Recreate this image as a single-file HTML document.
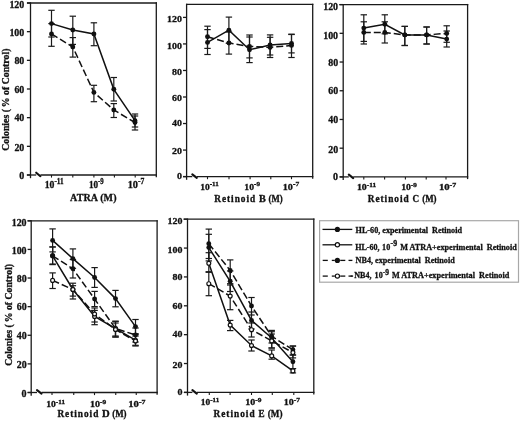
<!DOCTYPE html>
<html><head><meta charset="utf-8"><style>
html,body{margin:0;padding:0;background:#fff;}
svg{display:block;filter:grayscale(1);}
text{font-family:"Liberation Serif", serif;font-weight:bold;fill:#111;stroke:#111;stroke-width:0.3px;}
</style></head><body>
<svg width="520" height="421" viewBox="0 0 520 421">
<rect width="520" height="421" fill="#fff"/>
<line x1="27" y1="3" x2="156.95" y2="3" stroke="#1a1a1a" stroke-width="1.3" />
<line x1="156.3" y1="2.35" x2="156.3" y2="177.2" stroke="#1a1a1a" stroke-width="1.3" />
<line x1="30.5" y1="2.35" x2="30.5" y2="178.2" stroke="#1a1a1a" stroke-width="1.3" />
<line x1="26.9" y1="175" x2="36.2" y2="175" stroke="#1a1a1a" stroke-width="1.3" />
<line x1="40.4" y1="175" x2="156.95" y2="175" stroke="#1a1a1a" stroke-width="1.3" />
<path d="M36.2,172.7 L40.4,176.2" stroke="#111" stroke-width="2.1" stroke-linecap="round"/>
<line x1="26.9" y1="175" x2="30.5" y2="175" stroke="#1a1a1a" stroke-width="1.3" />
<text x="24.3" y="178.93" font-size="9.8" text-anchor="end" textLength="5" lengthAdjust="spacingAndGlyphs" >0</text>
<line x1="26.9" y1="146.33" x2="30.5" y2="146.33" stroke="#1a1a1a" stroke-width="1.3" />
<text x="24.3" y="151.33" font-size="9.8" text-anchor="end" textLength="9.9" lengthAdjust="spacingAndGlyphs" >20</text>
<line x1="26.9" y1="117.67" x2="30.5" y2="117.67" stroke="#1a1a1a" stroke-width="1.3" />
<text x="24.3" y="121.33" font-size="9.8" text-anchor="end" textLength="9.9" lengthAdjust="spacingAndGlyphs" >40</text>
<line x1="26.9" y1="89" x2="30.5" y2="89" stroke="#1a1a1a" stroke-width="1.3" />
<text x="24.3" y="92.83" font-size="9.8" text-anchor="end" textLength="9.9" lengthAdjust="spacingAndGlyphs" >60</text>
<line x1="26.9" y1="60.33" x2="30.5" y2="60.33" stroke="#1a1a1a" stroke-width="1.3" />
<text x="24.3" y="64.33" font-size="9.8" text-anchor="end" textLength="9.9" lengthAdjust="spacingAndGlyphs" >80</text>
<line x1="26.9" y1="31.67" x2="30.5" y2="31.67" stroke="#1a1a1a" stroke-width="1.3" />
<text x="24.3" y="36.33" font-size="9.8" text-anchor="end" textLength="14.9" lengthAdjust="spacingAndGlyphs" >100</text>
<line x1="26.9" y1="3" x2="30.5" y2="3" stroke="#1a1a1a" stroke-width="1.3" />
<text x="24.3" y="7.73" font-size="9.8" text-anchor="end" textLength="14.9" lengthAdjust="spacingAndGlyphs" >120</text>
<line x1="51.5" y1="175" x2="51.5" y2="177.6" stroke="#1a1a1a" stroke-width="1.1" />
<line x1="72.8" y1="175" x2="72.8" y2="177.6" stroke="#1a1a1a" stroke-width="1.1" />
<line x1="93.9" y1="175" x2="93.9" y2="177.6" stroke="#1a1a1a" stroke-width="1.1" />
<line x1="114.4" y1="175" x2="114.4" y2="177.6" stroke="#1a1a1a" stroke-width="1.1" />
<line x1="135.2" y1="175" x2="135.2" y2="177.6" stroke="#1a1a1a" stroke-width="1.1" />
<text x="44.7" y="187.7" font-size="10" textLength="18.9" lengthAdjust="spacingAndGlyphs">10<tspan font-size="7.4" dy="-3.6">-11</tspan></text>
<text x="88.9" y="187.7" font-size="10" textLength="14.8" lengthAdjust="spacingAndGlyphs">10<tspan font-size="7.4" dy="-3.6">-9</tspan></text>
<text x="127.7" y="187.7" font-size="10" textLength="16.7" lengthAdjust="spacingAndGlyphs">10<tspan font-size="7.4" dy="-3.6">-7</tspan></text>
<text x="70.1" y="200.9" font-size="10" text-anchor="start" textLength="46.4" lengthAdjust="spacing" >ATRA (M)</text>
<text transform="translate(9.4,150.7) rotate(-90)" font-size="10" textLength="102.1" lengthAdjust="spacingAndGlyphs">Colonies (&#8201;% of Control)</text>
<polyline points="51.5,23.6 72.8,30 93.9,34 113.8,89.3 135,120.7" fill="none" stroke="#111" stroke-width="1.5" />
<polyline points="51.5,33.9 72.8,47 93.9,92.4 113.8,110 135,122.5" fill="none" stroke="#111" stroke-width="1.5" stroke-dasharray="7,3"/>
<line x1="51.5" y1="10.3" x2="51.5" y2="37" stroke="#1a1a1a" stroke-width="1.2" />
<line x1="48.3" y1="10.3" x2="54.7" y2="10.3" stroke="#1a1a1a" stroke-width="1.2" />
<line x1="48.3" y1="37" x2="54.7" y2="37" stroke="#1a1a1a" stroke-width="1.2" />
<line x1="72.8" y1="16.2" x2="72.8" y2="44.4" stroke="#1a1a1a" stroke-width="1.2" />
<line x1="69.6" y1="16.2" x2="76" y2="16.2" stroke="#1a1a1a" stroke-width="1.2" />
<line x1="69.6" y1="44.4" x2="76" y2="44.4" stroke="#1a1a1a" stroke-width="1.2" />
<line x1="93.9" y1="22.8" x2="93.9" y2="45.7" stroke="#1a1a1a" stroke-width="1.2" />
<line x1="90.7" y1="22.8" x2="97.1" y2="22.8" stroke="#1a1a1a" stroke-width="1.2" />
<line x1="90.7" y1="45.7" x2="97.1" y2="45.7" stroke="#1a1a1a" stroke-width="1.2" />
<line x1="113.8" y1="77.5" x2="113.8" y2="101" stroke="#1a1a1a" stroke-width="1.2" />
<line x1="110.6" y1="77.5" x2="117" y2="77.5" stroke="#1a1a1a" stroke-width="1.2" />
<line x1="110.6" y1="101" x2="117" y2="101" stroke="#1a1a1a" stroke-width="1.2" />
<line x1="135" y1="114" x2="135" y2="127" stroke="#1a1a1a" stroke-width="1.2" />
<line x1="131.8" y1="114" x2="138.2" y2="114" stroke="#1a1a1a" stroke-width="1.2" />
<line x1="131.8" y1="127" x2="138.2" y2="127" stroke="#1a1a1a" stroke-width="1.2" />
<line x1="51.5" y1="23.6" x2="51.5" y2="46.3" stroke="#1a1a1a" stroke-width="1.2" />
<line x1="48.3" y1="23.6" x2="54.7" y2="23.6" stroke="#1a1a1a" stroke-width="1.2" />
<line x1="48.3" y1="46.3" x2="54.7" y2="46.3" stroke="#1a1a1a" stroke-width="1.2" />
<line x1="72.8" y1="37.6" x2="72.8" y2="57.1" stroke="#1a1a1a" stroke-width="1.2" />
<line x1="69.6" y1="37.6" x2="76" y2="37.6" stroke="#1a1a1a" stroke-width="1.2" />
<line x1="69.6" y1="57.1" x2="76" y2="57.1" stroke="#1a1a1a" stroke-width="1.2" />
<line x1="93.9" y1="85.3" x2="93.9" y2="101.7" stroke="#1a1a1a" stroke-width="1.2" />
<line x1="90.7" y1="85.3" x2="97.1" y2="85.3" stroke="#1a1a1a" stroke-width="1.2" />
<line x1="90.7" y1="101.7" x2="97.1" y2="101.7" stroke="#1a1a1a" stroke-width="1.2" />
<line x1="113.8" y1="103.6" x2="113.8" y2="117.5" stroke="#1a1a1a" stroke-width="1.2" />
<line x1="110.6" y1="103.6" x2="117" y2="103.6" stroke="#1a1a1a" stroke-width="1.2" />
<line x1="110.6" y1="117.5" x2="117" y2="117.5" stroke="#1a1a1a" stroke-width="1.2" />
<line x1="135" y1="116" x2="135" y2="130" stroke="#1a1a1a" stroke-width="1.2" />
<line x1="131.8" y1="116" x2="138.2" y2="116" stroke="#1a1a1a" stroke-width="1.2" />
<line x1="131.8" y1="130" x2="138.2" y2="130" stroke="#1a1a1a" stroke-width="1.2" />
<circle cx="51.5" cy="23.6" r="2.45" fill="#111"/>
<circle cx="72.8" cy="30" r="2.45" fill="#111"/>
<circle cx="93.9" cy="34" r="2.45" fill="#111"/>
<circle cx="113.8" cy="89.3" r="2.45" fill="#111"/>
<circle cx="135" cy="120.7" r="2.45" fill="#111"/>
<circle cx="51.5" cy="33.9" r="2.45" fill="#111"/>
<circle cx="72.8" cy="47" r="2.45" fill="#111"/>
<circle cx="93.9" cy="92.4" r="2.45" fill="#111"/>
<circle cx="113.8" cy="110" r="2.45" fill="#111"/>
<circle cx="135" cy="122.5" r="2.45" fill="#111"/>
<line x1="186.6" y1="4.3" x2="313.35" y2="4.3" stroke="#1a1a1a" stroke-width="1.3" />
<line x1="312.7" y1="3.65" x2="312.7" y2="178.8" stroke="#1a1a1a" stroke-width="1.3" />
<line x1="186.6" y1="3.65" x2="186.6" y2="179.8" stroke="#1a1a1a" stroke-width="1.3" />
<line x1="183" y1="176.6" x2="192.3" y2="176.6" stroke="#1a1a1a" stroke-width="1.3" />
<line x1="196.8" y1="176.6" x2="313.35" y2="176.6" stroke="#1a1a1a" stroke-width="1.3" />
<path d="M192.3,174.3 L196.8,177.8" stroke="#111" stroke-width="2.1" stroke-linecap="round"/>
<line x1="183" y1="176.6" x2="186.6" y2="176.6" stroke="#1a1a1a" stroke-width="1.3" />
<text x="181.9" y="179.43" font-size="9.2" text-anchor="end" textLength="5" lengthAdjust="spacingAndGlyphs" >0</text>
<line x1="183" y1="150.07" x2="186.6" y2="150.07" stroke="#1a1a1a" stroke-width="1.3" />
<text x="181.9" y="153.73" font-size="9.2" text-anchor="end" textLength="9.9" lengthAdjust="spacingAndGlyphs" >20</text>
<line x1="183" y1="123.53" x2="186.6" y2="123.53" stroke="#1a1a1a" stroke-width="1.3" />
<text x="181.9" y="126.43" font-size="9.2" text-anchor="end" textLength="9.9" lengthAdjust="spacingAndGlyphs" >40</text>
<line x1="183" y1="97" x2="186.6" y2="97" stroke="#1a1a1a" stroke-width="1.3" />
<text x="181.9" y="100.73" font-size="9.2" text-anchor="end" textLength="9.9" lengthAdjust="spacingAndGlyphs" >60</text>
<line x1="183" y1="70.47" x2="186.6" y2="70.47" stroke="#1a1a1a" stroke-width="1.3" />
<text x="181.9" y="74.53" font-size="9.2" text-anchor="end" textLength="9.9" lengthAdjust="spacingAndGlyphs" >80</text>
<line x1="183" y1="43.93" x2="186.6" y2="43.93" stroke="#1a1a1a" stroke-width="1.3" />
<text x="181.9" y="48.93" font-size="9.2" text-anchor="end" textLength="14.9" lengthAdjust="spacingAndGlyphs" >100</text>
<line x1="183" y1="17.4" x2="186.6" y2="17.4" stroke="#1a1a1a" stroke-width="1.3" />
<text x="181.9" y="21.93" font-size="9.2" text-anchor="end" textLength="14.9" lengthAdjust="spacingAndGlyphs" >120</text>
<line x1="207.5" y1="176.6" x2="207.5" y2="179.2" stroke="#1a1a1a" stroke-width="1.1" />
<line x1="229" y1="176.6" x2="229" y2="179.2" stroke="#1a1a1a" stroke-width="1.1" />
<line x1="250.1" y1="176.6" x2="250.1" y2="179.2" stroke="#1a1a1a" stroke-width="1.1" />
<line x1="270.8" y1="176.6" x2="270.8" y2="179.2" stroke="#1a1a1a" stroke-width="1.1" />
<line x1="291.5" y1="176.6" x2="291.5" y2="179.2" stroke="#1a1a1a" stroke-width="1.1" />
<text x="200.2" y="189.5" font-size="9.2" textLength="18.5" lengthAdjust="spacingAndGlyphs">10<tspan font-size="6.81" dy="-3.31">-11</tspan></text>
<text x="244.3" y="189.5" font-size="9.2" textLength="15.7" lengthAdjust="spacingAndGlyphs">10<tspan font-size="6.81" dy="-3.31">-9</tspan></text>
<text x="282.8" y="189.5" font-size="9.2" textLength="16.4" lengthAdjust="spacingAndGlyphs">10<tspan font-size="6.81" dy="-3.31">-7</tspan></text>
<text x="214.3" y="202" font-size="9.3" text-anchor="start" textLength="40.8" lengthAdjust="spacing" >Retinoid</text>
<text x="258.9" y="202" font-size="9.3" text-anchor="start" textLength="6.8" lengthAdjust="spacingAndGlyphs" >B</text>
<text x="268.5" y="202" font-size="9.3" text-anchor="start" textLength="14.1" lengthAdjust="spacingAndGlyphs" >(M)</text>
<polyline points="207.5,42.4 228.9,30.2 249.5,49.8 270.1,45 291.5,43.4" fill="none" stroke="#111" stroke-width="1.5" />
<polyline points="207.5,36.7 228.9,43 249.5,46.4 270.1,47.4 291.5,45.4" fill="none" stroke="#111" stroke-width="1.5" stroke-dasharray="7,3"/>
<line x1="207.5" y1="29.6" x2="207.5" y2="54.5" stroke="#1a1a1a" stroke-width="1.2" />
<line x1="204.3" y1="29.6" x2="210.7" y2="29.6" stroke="#1a1a1a" stroke-width="1.2" />
<line x1="204.3" y1="54.5" x2="210.7" y2="54.5" stroke="#1a1a1a" stroke-width="1.2" />
<line x1="228.9" y1="17.1" x2="228.9" y2="43.3" stroke="#1a1a1a" stroke-width="1.2" />
<line x1="225.7" y1="17.1" x2="232.1" y2="17.1" stroke="#1a1a1a" stroke-width="1.2" />
<line x1="225.7" y1="43.3" x2="232.1" y2="43.3" stroke="#1a1a1a" stroke-width="1.2" />
<line x1="249.5" y1="37" x2="249.5" y2="62.6" stroke="#1a1a1a" stroke-width="1.2" />
<line x1="246.3" y1="37" x2="252.7" y2="37" stroke="#1a1a1a" stroke-width="1.2" />
<line x1="246.3" y1="62.6" x2="252.7" y2="62.6" stroke="#1a1a1a" stroke-width="1.2" />
<line x1="270.1" y1="34.9" x2="270.1" y2="55" stroke="#1a1a1a" stroke-width="1.2" />
<line x1="266.9" y1="34.9" x2="273.3" y2="34.9" stroke="#1a1a1a" stroke-width="1.2" />
<line x1="266.9" y1="55" x2="273.3" y2="55" stroke="#1a1a1a" stroke-width="1.2" />
<line x1="291.5" y1="34.2" x2="291.5" y2="52.9" stroke="#1a1a1a" stroke-width="1.2" />
<line x1="288.3" y1="34.2" x2="294.7" y2="34.2" stroke="#1a1a1a" stroke-width="1.2" />
<line x1="288.3" y1="52.9" x2="294.7" y2="52.9" stroke="#1a1a1a" stroke-width="1.2" />
<line x1="207.5" y1="26.2" x2="207.5" y2="48.4" stroke="#1a1a1a" stroke-width="1.2" />
<line x1="204.3" y1="26.2" x2="210.7" y2="26.2" stroke="#1a1a1a" stroke-width="1.2" />
<line x1="204.3" y1="48.4" x2="210.7" y2="48.4" stroke="#1a1a1a" stroke-width="1.2" />
<line x1="228.9" y1="32" x2="228.9" y2="54.1" stroke="#1a1a1a" stroke-width="1.2" />
<line x1="225.7" y1="32" x2="232.1" y2="32" stroke="#1a1a1a" stroke-width="1.2" />
<line x1="225.7" y1="54.1" x2="232.1" y2="54.1" stroke="#1a1a1a" stroke-width="1.2" />
<line x1="249.5" y1="35" x2="249.5" y2="57.9" stroke="#1a1a1a" stroke-width="1.2" />
<line x1="246.3" y1="35" x2="252.7" y2="35" stroke="#1a1a1a" stroke-width="1.2" />
<line x1="246.3" y1="57.9" x2="252.7" y2="57.9" stroke="#1a1a1a" stroke-width="1.2" />
<line x1="270.1" y1="37.3" x2="270.1" y2="57.5" stroke="#1a1a1a" stroke-width="1.2" />
<line x1="266.9" y1="37.3" x2="273.3" y2="37.3" stroke="#1a1a1a" stroke-width="1.2" />
<line x1="266.9" y1="57.5" x2="273.3" y2="57.5" stroke="#1a1a1a" stroke-width="1.2" />
<line x1="291.5" y1="34.5" x2="291.5" y2="57.5" stroke="#1a1a1a" stroke-width="1.2" />
<line x1="288.3" y1="34.5" x2="294.7" y2="34.5" stroke="#1a1a1a" stroke-width="1.2" />
<line x1="288.3" y1="57.5" x2="294.7" y2="57.5" stroke="#1a1a1a" stroke-width="1.2" />
<circle cx="207.5" cy="42.4" r="2.45" fill="#111"/>
<circle cx="228.9" cy="30.2" r="2.45" fill="#111"/>
<circle cx="249.5" cy="49.8" r="2.45" fill="#111"/>
<circle cx="270.1" cy="45" r="2.45" fill="#111"/>
<circle cx="291.5" cy="43.4" r="2.45" fill="#111"/>
<circle cx="207.5" cy="36.7" r="2.45" fill="#111"/>
<circle cx="228.9" cy="43" r="2.45" fill="#111"/>
<circle cx="249.5" cy="46.4" r="2.45" fill="#111"/>
<circle cx="270.1" cy="47.4" r="2.45" fill="#111"/>
<circle cx="291.5" cy="45.4" r="2.45" fill="#111"/>
<line x1="339.3" y1="4.6" x2="468.25" y2="4.6" stroke="#1a1a1a" stroke-width="1.3" />
<line x1="467.6" y1="3.95" x2="467.6" y2="179.1" stroke="#1a1a1a" stroke-width="1.3" />
<line x1="343.2" y1="3.95" x2="343.2" y2="180.1" stroke="#1a1a1a" stroke-width="1.3" />
<line x1="339.6" y1="176.9" x2="348.8" y2="176.9" stroke="#1a1a1a" stroke-width="1.3" />
<line x1="353.2" y1="176.9" x2="468.25" y2="176.9" stroke="#1a1a1a" stroke-width="1.3" />
<path d="M348.8,174.6 L353.2,178.1" stroke="#111" stroke-width="2.1" stroke-linecap="round"/>
<line x1="339.6" y1="176.9" x2="343.2" y2="176.9" stroke="#1a1a1a" stroke-width="1.3" />
<text x="338.1" y="180.23" font-size="9.8" text-anchor="end" textLength="5" lengthAdjust="spacingAndGlyphs" >0</text>
<line x1="339.6" y1="148.18" x2="343.2" y2="148.18" stroke="#1a1a1a" stroke-width="1.3" />
<text x="338.1" y="152.53" font-size="9.8" text-anchor="end" textLength="9.9" lengthAdjust="spacingAndGlyphs" >20</text>
<line x1="339.6" y1="119.47" x2="343.2" y2="119.47" stroke="#1a1a1a" stroke-width="1.3" />
<text x="338.1" y="123.23" font-size="9.8" text-anchor="end" textLength="9.9" lengthAdjust="spacingAndGlyphs" >40</text>
<line x1="339.6" y1="90.75" x2="343.2" y2="90.75" stroke="#1a1a1a" stroke-width="1.3" />
<text x="338.1" y="94.13" font-size="9.8" text-anchor="end" textLength="9.9" lengthAdjust="spacingAndGlyphs" >60</text>
<line x1="339.6" y1="62.03" x2="343.2" y2="62.03" stroke="#1a1a1a" stroke-width="1.3" />
<text x="338.1" y="66.03" font-size="9.8" text-anchor="end" textLength="9.9" lengthAdjust="spacingAndGlyphs" >80</text>
<line x1="339.6" y1="33.32" x2="343.2" y2="33.32" stroke="#1a1a1a" stroke-width="1.3" />
<text x="338.1" y="39.13" font-size="9.8" text-anchor="end" textLength="14.9" lengthAdjust="spacingAndGlyphs" >100</text>
<line x1="339.6" y1="4.6" x2="343.2" y2="4.6" stroke="#1a1a1a" stroke-width="1.3" />
<text x="338.1" y="9.63" font-size="9.8" text-anchor="end" textLength="14.9" lengthAdjust="spacingAndGlyphs" >120</text>
<line x1="363.8" y1="176.9" x2="363.8" y2="179.5" stroke="#1a1a1a" stroke-width="1.1" />
<line x1="384.6" y1="176.9" x2="384.6" y2="179.5" stroke="#1a1a1a" stroke-width="1.1" />
<line x1="405.4" y1="176.9" x2="405.4" y2="179.5" stroke="#1a1a1a" stroke-width="1.1" />
<line x1="426.2" y1="176.9" x2="426.2" y2="179.5" stroke="#1a1a1a" stroke-width="1.1" />
<line x1="446" y1="176.9" x2="446" y2="179.5" stroke="#1a1a1a" stroke-width="1.1" />
<text x="356.9" y="190" font-size="8.4" textLength="19.2" lengthAdjust="spacingAndGlyphs">10<tspan font-size="6.22" dy="-3.02">-11</tspan></text>
<text x="401.2" y="190" font-size="8.4" textLength="15.7" lengthAdjust="spacingAndGlyphs">10<tspan font-size="6.22" dy="-3.02">-9</tspan></text>
<text x="438.9" y="190" font-size="8.4" textLength="17.3" lengthAdjust="spacingAndGlyphs">10<tspan font-size="6.22" dy="-3.02">-7</tspan></text>
<text x="367.8" y="202.3" font-size="9.3" text-anchor="start" textLength="40.8" lengthAdjust="spacing" >Retinoid</text>
<text x="412.5" y="202.3" font-size="9.3" text-anchor="start" textLength="6.6" lengthAdjust="spacingAndGlyphs" >C</text>
<text x="422.2" y="202.3" font-size="9.3" text-anchor="start" textLength="14.4" lengthAdjust="spacingAndGlyphs" >(M)</text>
<polyline points="363.8,28.1 384.8,24.3 404.8,34.9 426.6,34.9 446.7,39.1" fill="none" stroke="#111" stroke-width="1.5" />
<polyline points="363.8,32.4 384.8,32.4 404.8,34.9 426.6,34.9 446.7,33.4" fill="none" stroke="#111" stroke-width="1.5" stroke-dasharray="7,3"/>
<line x1="363.8" y1="14.8" x2="363.8" y2="41.4" stroke="#1a1a1a" stroke-width="1.2" />
<line x1="360.6" y1="14.8" x2="367" y2="14.8" stroke="#1a1a1a" stroke-width="1.2" />
<line x1="360.6" y1="41.4" x2="367" y2="41.4" stroke="#1a1a1a" stroke-width="1.2" />
<line x1="384.8" y1="14.8" x2="384.8" y2="33.8" stroke="#1a1a1a" stroke-width="1.2" />
<line x1="381.6" y1="14.8" x2="388" y2="14.8" stroke="#1a1a1a" stroke-width="1.2" />
<line x1="381.6" y1="33.8" x2="388" y2="33.8" stroke="#1a1a1a" stroke-width="1.2" />
<line x1="404.8" y1="26.4" x2="404.8" y2="45.5" stroke="#1a1a1a" stroke-width="1.2" />
<line x1="401.6" y1="26.4" x2="408" y2="26.4" stroke="#1a1a1a" stroke-width="1.2" />
<line x1="401.6" y1="45.5" x2="408" y2="45.5" stroke="#1a1a1a" stroke-width="1.2" />
<line x1="426.6" y1="27" x2="426.6" y2="44" stroke="#1a1a1a" stroke-width="1.2" />
<line x1="423.4" y1="27" x2="429.8" y2="27" stroke="#1a1a1a" stroke-width="1.2" />
<line x1="423.4" y1="44" x2="429.8" y2="44" stroke="#1a1a1a" stroke-width="1.2" />
<line x1="446.7" y1="31" x2="446.7" y2="47" stroke="#1a1a1a" stroke-width="1.2" />
<line x1="443.5" y1="31" x2="449.9" y2="31" stroke="#1a1a1a" stroke-width="1.2" />
<line x1="443.5" y1="47" x2="449.9" y2="47" stroke="#1a1a1a" stroke-width="1.2" />
<line x1="363.8" y1="21.8" x2="363.8" y2="44" stroke="#1a1a1a" stroke-width="1.2" />
<line x1="360.6" y1="21.8" x2="367" y2="21.8" stroke="#1a1a1a" stroke-width="1.2" />
<line x1="360.6" y1="44" x2="367" y2="44" stroke="#1a1a1a" stroke-width="1.2" />
<line x1="384.8" y1="21.8" x2="384.8" y2="43" stroke="#1a1a1a" stroke-width="1.2" />
<line x1="381.6" y1="21.8" x2="388" y2="21.8" stroke="#1a1a1a" stroke-width="1.2" />
<line x1="381.6" y1="43" x2="388" y2="43" stroke="#1a1a1a" stroke-width="1.2" />
<line x1="404.8" y1="26.4" x2="404.8" y2="45.5" stroke="#1a1a1a" stroke-width="1.2" />
<line x1="401.6" y1="26.4" x2="408" y2="26.4" stroke="#1a1a1a" stroke-width="1.2" />
<line x1="401.6" y1="45.5" x2="408" y2="45.5" stroke="#1a1a1a" stroke-width="1.2" />
<line x1="426.6" y1="27" x2="426.6" y2="44" stroke="#1a1a1a" stroke-width="1.2" />
<line x1="423.4" y1="27" x2="429.8" y2="27" stroke="#1a1a1a" stroke-width="1.2" />
<line x1="423.4" y1="44" x2="429.8" y2="44" stroke="#1a1a1a" stroke-width="1.2" />
<line x1="446.7" y1="25.8" x2="446.7" y2="42.3" stroke="#1a1a1a" stroke-width="1.2" />
<line x1="443.5" y1="25.8" x2="449.9" y2="25.8" stroke="#1a1a1a" stroke-width="1.2" />
<line x1="443.5" y1="42.3" x2="449.9" y2="42.3" stroke="#1a1a1a" stroke-width="1.2" />
<circle cx="363.8" cy="28.1" r="2.45" fill="#111"/>
<circle cx="384.8" cy="24.3" r="2.45" fill="#111"/>
<circle cx="404.8" cy="34.9" r="2.45" fill="#111"/>
<circle cx="426.6" cy="34.9" r="2.45" fill="#111"/>
<circle cx="446.7" cy="39.1" r="2.45" fill="#111"/>
<circle cx="363.8" cy="32.4" r="2.45" fill="#111"/>
<circle cx="384.8" cy="32.4" r="2.45" fill="#111"/>
<circle cx="404.8" cy="34.9" r="2.45" fill="#111"/>
<circle cx="426.6" cy="34.9" r="2.45" fill="#111"/>
<circle cx="446.7" cy="33.4" r="2.45" fill="#111"/>
<line x1="27.5" y1="220.8" x2="157.75" y2="220.8" stroke="#1a1a1a" stroke-width="1.3" />
<line x1="157.1" y1="220.15" x2="157.1" y2="394.7" stroke="#1a1a1a" stroke-width="1.3" />
<line x1="31.2" y1="220.15" x2="31.2" y2="395.7" stroke="#1a1a1a" stroke-width="1.3" />
<line x1="27.6" y1="392.5" x2="37" y2="392.5" stroke="#1a1a1a" stroke-width="1.3" />
<line x1="41.5" y1="392.5" x2="157.75" y2="392.5" stroke="#1a1a1a" stroke-width="1.3" />
<path d="M37,390.2 L41.5,393.7" stroke="#111" stroke-width="2.1" stroke-linecap="round"/>
<line x1="27.6" y1="392.5" x2="31.2" y2="392.5" stroke="#1a1a1a" stroke-width="1.3" />
<text x="26.6" y="396.83" font-size="9.8" text-anchor="end" textLength="5" lengthAdjust="spacingAndGlyphs" >0</text>
<line x1="27.6" y1="363.88" x2="31.2" y2="363.88" stroke="#1a1a1a" stroke-width="1.3" />
<text x="26.6" y="368.03" font-size="9.8" text-anchor="end" textLength="9.9" lengthAdjust="spacingAndGlyphs" >20</text>
<line x1="27.6" y1="335.27" x2="31.2" y2="335.27" stroke="#1a1a1a" stroke-width="1.3" />
<text x="26.6" y="338.63" font-size="9.8" text-anchor="end" textLength="9.9" lengthAdjust="spacingAndGlyphs" >40</text>
<line x1="27.6" y1="306.65" x2="31.2" y2="306.65" stroke="#1a1a1a" stroke-width="1.3" />
<text x="26.6" y="309.53" font-size="9.8" text-anchor="end" textLength="9.9" lengthAdjust="spacingAndGlyphs" >60</text>
<line x1="27.6" y1="278.03" x2="31.2" y2="278.03" stroke="#1a1a1a" stroke-width="1.3" />
<text x="26.6" y="281.63" font-size="9.8" text-anchor="end" textLength="9.9" lengthAdjust="spacingAndGlyphs" >80</text>
<line x1="27.6" y1="249.42" x2="31.2" y2="249.42" stroke="#1a1a1a" stroke-width="1.3" />
<text x="26.6" y="254.13" font-size="9.8" text-anchor="end" textLength="14.9" lengthAdjust="spacingAndGlyphs" >100</text>
<line x1="27.6" y1="220.8" x2="31.2" y2="220.8" stroke="#1a1a1a" stroke-width="1.3" />
<text x="26.6" y="225.53" font-size="9.8" text-anchor="end" textLength="14.9" lengthAdjust="spacingAndGlyphs" >120</text>
<line x1="52" y1="392.5" x2="52" y2="395.1" stroke="#1a1a1a" stroke-width="1.1" />
<line x1="73.75" y1="392.5" x2="73.75" y2="395.1" stroke="#1a1a1a" stroke-width="1.1" />
<line x1="94.5" y1="392.5" x2="94.5" y2="395.1" stroke="#1a1a1a" stroke-width="1.1" />
<line x1="115.75" y1="392.5" x2="115.75" y2="395.1" stroke="#1a1a1a" stroke-width="1.1" />
<line x1="136.25" y1="392.5" x2="136.25" y2="395.1" stroke="#1a1a1a" stroke-width="1.1" />
<text x="46.25" y="406.7" font-size="8.6" textLength="18.75" lengthAdjust="spacingAndGlyphs">10<tspan font-size="6.36" dy="-3.1">-11</tspan></text>
<text x="90" y="406.7" font-size="8.6" textLength="16.25" lengthAdjust="spacingAndGlyphs">10<tspan font-size="6.36" dy="-3.1">-9</tspan></text>
<text x="128.25" y="406.7" font-size="8.6" textLength="17.25" lengthAdjust="spacingAndGlyphs">10<tspan font-size="6.36" dy="-3.1">-7</tspan></text>
<text x="57.4" y="417.3" font-size="9.3" text-anchor="start" textLength="40.9" lengthAdjust="spacing" >Retinoid</text>
<text x="102" y="417.3" font-size="9.3" text-anchor="start" textLength="7.7" lengthAdjust="spacingAndGlyphs" >D</text>
<text x="112.2" y="417.3" font-size="9.3" text-anchor="start" textLength="14.4" lengthAdjust="spacingAndGlyphs" >(M)</text>
<text transform="translate(12,365.8) rotate(-90)" font-size="10" textLength="101.9" lengthAdjust="spacingAndGlyphs">Colonies (&#8201;% of Control)</text>
<polyline points="52.6,240.4 72.9,258.6 94.6,277.5 115.5,298.6 135.5,326.6" fill="none" stroke="#111" stroke-width="1.5" />
<polyline points="52.6,255.8 72.9,289.5 94.6,316.5 115.5,328.7 135.5,340.2" fill="none" stroke="#111" stroke-width="1.5" />
<polyline points="52.6,255.8 72.9,268.8 94.6,299 115.5,328.5 135.5,335" fill="none" stroke="#111" stroke-width="1.5" stroke-dasharray="7,3"/>
<polyline points="52.6,280.4 72.9,289.5 94.6,314 115.5,329.5 135.5,341" fill="none" stroke="#111" stroke-width="1.5" stroke-dasharray="7,3"/>
<line x1="52.6" y1="228.9" x2="52.6" y2="251.9" stroke="#1a1a1a" stroke-width="1.2" />
<line x1="49.4" y1="228.9" x2="55.8" y2="228.9" stroke="#1a1a1a" stroke-width="1.2" />
<line x1="49.4" y1="251.9" x2="55.8" y2="251.9" stroke="#1a1a1a" stroke-width="1.2" />
<line x1="72.9" y1="248.9" x2="72.9" y2="268.3" stroke="#1a1a1a" stroke-width="1.2" />
<line x1="69.7" y1="248.9" x2="76.1" y2="248.9" stroke="#1a1a1a" stroke-width="1.2" />
<line x1="69.7" y1="268.3" x2="76.1" y2="268.3" stroke="#1a1a1a" stroke-width="1.2" />
<line x1="94.6" y1="267.6" x2="94.6" y2="287.4" stroke="#1a1a1a" stroke-width="1.2" />
<line x1="91.4" y1="267.6" x2="97.8" y2="267.6" stroke="#1a1a1a" stroke-width="1.2" />
<line x1="91.4" y1="287.4" x2="97.8" y2="287.4" stroke="#1a1a1a" stroke-width="1.2" />
<line x1="115.5" y1="290.4" x2="115.5" y2="306.8" stroke="#1a1a1a" stroke-width="1.2" />
<line x1="112.3" y1="290.4" x2="118.7" y2="290.4" stroke="#1a1a1a" stroke-width="1.2" />
<line x1="112.3" y1="306.8" x2="118.7" y2="306.8" stroke="#1a1a1a" stroke-width="1.2" />
<line x1="135.5" y1="319.5" x2="135.5" y2="333.7" stroke="#1a1a1a" stroke-width="1.2" />
<line x1="132.3" y1="319.5" x2="138.7" y2="319.5" stroke="#1a1a1a" stroke-width="1.2" />
<line x1="132.3" y1="333.7" x2="138.7" y2="333.7" stroke="#1a1a1a" stroke-width="1.2" />
<line x1="52.6" y1="247" x2="52.6" y2="264.6" stroke="#1a1a1a" stroke-width="1.2" />
<line x1="49.4" y1="247" x2="55.8" y2="247" stroke="#1a1a1a" stroke-width="1.2" />
<line x1="49.4" y1="264.6" x2="55.8" y2="264.6" stroke="#1a1a1a" stroke-width="1.2" />
<line x1="72.9" y1="283.2" x2="72.9" y2="296.1" stroke="#1a1a1a" stroke-width="1.2" />
<line x1="69.7" y1="283.2" x2="76.1" y2="283.2" stroke="#1a1a1a" stroke-width="1.2" />
<line x1="69.7" y1="296.1" x2="76.1" y2="296.1" stroke="#1a1a1a" stroke-width="1.2" />
<line x1="94.6" y1="310.4" x2="94.6" y2="324.7" stroke="#1a1a1a" stroke-width="1.2" />
<line x1="91.4" y1="310.4" x2="97.8" y2="310.4" stroke="#1a1a1a" stroke-width="1.2" />
<line x1="91.4" y1="324.7" x2="97.8" y2="324.7" stroke="#1a1a1a" stroke-width="1.2" />
<line x1="115.5" y1="321.3" x2="115.5" y2="337" stroke="#1a1a1a" stroke-width="1.2" />
<line x1="112.3" y1="321.3" x2="118.7" y2="321.3" stroke="#1a1a1a" stroke-width="1.2" />
<line x1="112.3" y1="337" x2="118.7" y2="337" stroke="#1a1a1a" stroke-width="1.2" />
<line x1="135.5" y1="334.5" x2="135.5" y2="345.3" stroke="#1a1a1a" stroke-width="1.2" />
<line x1="132.3" y1="334.5" x2="138.7" y2="334.5" stroke="#1a1a1a" stroke-width="1.2" />
<line x1="132.3" y1="345.3" x2="138.7" y2="345.3" stroke="#1a1a1a" stroke-width="1.2" />
<line x1="52.6" y1="246.9" x2="52.6" y2="264" stroke="#1a1a1a" stroke-width="1.2" />
<line x1="49.4" y1="246.9" x2="55.8" y2="246.9" stroke="#1a1a1a" stroke-width="1.2" />
<line x1="49.4" y1="264" x2="55.8" y2="264" stroke="#1a1a1a" stroke-width="1.2" />
<line x1="72.9" y1="259.6" x2="72.9" y2="278" stroke="#1a1a1a" stroke-width="1.2" />
<line x1="69.7" y1="259.6" x2="76.1" y2="259.6" stroke="#1a1a1a" stroke-width="1.2" />
<line x1="69.7" y1="278" x2="76.1" y2="278" stroke="#1a1a1a" stroke-width="1.2" />
<line x1="94.6" y1="291.4" x2="94.6" y2="306.6" stroke="#1a1a1a" stroke-width="1.2" />
<line x1="91.4" y1="291.4" x2="97.8" y2="291.4" stroke="#1a1a1a" stroke-width="1.2" />
<line x1="91.4" y1="306.6" x2="97.8" y2="306.6" stroke="#1a1a1a" stroke-width="1.2" />
<line x1="115.5" y1="321.3" x2="115.5" y2="336" stroke="#1a1a1a" stroke-width="1.2" />
<line x1="112.3" y1="321.3" x2="118.7" y2="321.3" stroke="#1a1a1a" stroke-width="1.2" />
<line x1="112.3" y1="336" x2="118.7" y2="336" stroke="#1a1a1a" stroke-width="1.2" />
<line x1="135.5" y1="328" x2="135.5" y2="342" stroke="#1a1a1a" stroke-width="1.2" />
<line x1="132.3" y1="328" x2="138.7" y2="328" stroke="#1a1a1a" stroke-width="1.2" />
<line x1="132.3" y1="342" x2="138.7" y2="342" stroke="#1a1a1a" stroke-width="1.2" />
<line x1="52.6" y1="272.9" x2="52.6" y2="288.5" stroke="#1a1a1a" stroke-width="1.2" />
<line x1="49.4" y1="272.9" x2="55.8" y2="272.9" stroke="#1a1a1a" stroke-width="1.2" />
<line x1="49.4" y1="288.5" x2="55.8" y2="288.5" stroke="#1a1a1a" stroke-width="1.2" />
<line x1="72.9" y1="285.7" x2="72.9" y2="299" stroke="#1a1a1a" stroke-width="1.2" />
<line x1="69.7" y1="285.7" x2="76.1" y2="285.7" stroke="#1a1a1a" stroke-width="1.2" />
<line x1="69.7" y1="299" x2="76.1" y2="299" stroke="#1a1a1a" stroke-width="1.2" />
<line x1="94.6" y1="308" x2="94.6" y2="322" stroke="#1a1a1a" stroke-width="1.2" />
<line x1="91.4" y1="308" x2="97.8" y2="308" stroke="#1a1a1a" stroke-width="1.2" />
<line x1="91.4" y1="322" x2="97.8" y2="322" stroke="#1a1a1a" stroke-width="1.2" />
<line x1="115.5" y1="323" x2="115.5" y2="337" stroke="#1a1a1a" stroke-width="1.2" />
<line x1="112.3" y1="323" x2="118.7" y2="323" stroke="#1a1a1a" stroke-width="1.2" />
<line x1="112.3" y1="337" x2="118.7" y2="337" stroke="#1a1a1a" stroke-width="1.2" />
<line x1="135.5" y1="336" x2="135.5" y2="346" stroke="#1a1a1a" stroke-width="1.2" />
<line x1="132.3" y1="336" x2="138.7" y2="336" stroke="#1a1a1a" stroke-width="1.2" />
<line x1="132.3" y1="346" x2="138.7" y2="346" stroke="#1a1a1a" stroke-width="1.2" />
<circle cx="52.6" cy="240.4" r="2.45" fill="#111"/>
<circle cx="72.9" cy="258.6" r="2.45" fill="#111"/>
<circle cx="94.6" cy="277.5" r="2.45" fill="#111"/>
<circle cx="115.5" cy="298.6" r="2.45" fill="#111"/>
<circle cx="135.5" cy="326.6" r="2.45" fill="#111"/>
<circle cx="52.6" cy="255.8" r="1.95" fill="#fff" stroke="#111" stroke-width="1.2"/>
<circle cx="72.9" cy="289.5" r="1.95" fill="#fff" stroke="#111" stroke-width="1.2"/>
<circle cx="94.6" cy="316.5" r="1.95" fill="#fff" stroke="#111" stroke-width="1.2"/>
<circle cx="115.5" cy="328.7" r="1.95" fill="#fff" stroke="#111" stroke-width="1.2"/>
<circle cx="135.5" cy="340.2" r="1.95" fill="#fff" stroke="#111" stroke-width="1.2"/>
<circle cx="52.6" cy="255.8" r="2.45" fill="#111"/>
<circle cx="72.9" cy="268.8" r="2.45" fill="#111"/>
<circle cx="94.6" cy="299" r="2.45" fill="#111"/>
<circle cx="115.5" cy="328.5" r="2.45" fill="#111"/>
<circle cx="135.5" cy="335" r="2.45" fill="#111"/>
<circle cx="52.6" cy="280.4" r="1.95" fill="#fff" stroke="#111" stroke-width="1.2"/>
<circle cx="72.9" cy="289.5" r="1.95" fill="#fff" stroke="#111" stroke-width="1.2"/>
<circle cx="94.6" cy="314" r="1.95" fill="#fff" stroke="#111" stroke-width="1.2"/>
<circle cx="115.5" cy="329.5" r="1.95" fill="#fff" stroke="#111" stroke-width="1.2"/>
<circle cx="135.5" cy="341" r="1.95" fill="#fff" stroke="#111" stroke-width="1.2"/>
<line x1="183.5" y1="219.2" x2="314.45" y2="219.2" stroke="#1a1a1a" stroke-width="1.3" />
<line x1="313.8" y1="218.55" x2="313.8" y2="394.6" stroke="#1a1a1a" stroke-width="1.3" />
<line x1="187.5" y1="218.55" x2="187.5" y2="395.6" stroke="#1a1a1a" stroke-width="1.3" />
<line x1="183.9" y1="392.4" x2="192.4" y2="392.4" stroke="#1a1a1a" stroke-width="1.3" />
<line x1="196.8" y1="392.4" x2="314.45" y2="392.4" stroke="#1a1a1a" stroke-width="1.3" />
<path d="M192.4,390.1 L196.8,393.6" stroke="#111" stroke-width="2.1" stroke-linecap="round"/>
<line x1="183.9" y1="392.4" x2="187.5" y2="392.4" stroke="#1a1a1a" stroke-width="1.3" />
<text x="182.4" y="395.13" font-size="9.2" text-anchor="end" textLength="5" lengthAdjust="spacingAndGlyphs" >0</text>
<line x1="183.9" y1="363.53" x2="187.5" y2="363.53" stroke="#1a1a1a" stroke-width="1.3" />
<text x="182.4" y="367.83" font-size="9.2" text-anchor="end" textLength="9.9" lengthAdjust="spacingAndGlyphs" >20</text>
<line x1="183.9" y1="334.67" x2="187.5" y2="334.67" stroke="#1a1a1a" stroke-width="1.3" />
<text x="182.4" y="337.33" font-size="9.2" text-anchor="end" textLength="9.9" lengthAdjust="spacingAndGlyphs" >40</text>
<line x1="183.9" y1="305.8" x2="187.5" y2="305.8" stroke="#1a1a1a" stroke-width="1.3" />
<text x="182.4" y="308.83" font-size="9.2" text-anchor="end" textLength="9.9" lengthAdjust="spacingAndGlyphs" >60</text>
<line x1="183.9" y1="276.93" x2="187.5" y2="276.93" stroke="#1a1a1a" stroke-width="1.3" />
<text x="182.4" y="279.73" font-size="9.2" text-anchor="end" textLength="9.9" lengthAdjust="spacingAndGlyphs" >80</text>
<line x1="183.9" y1="248.07" x2="187.5" y2="248.07" stroke="#1a1a1a" stroke-width="1.3" />
<text x="182.4" y="253.13" font-size="9.2" text-anchor="end" textLength="14.9" lengthAdjust="spacingAndGlyphs" >100</text>
<line x1="183.9" y1="219.2" x2="187.5" y2="219.2" stroke="#1a1a1a" stroke-width="1.3" />
<text x="182.4" y="223.73" font-size="9.2" text-anchor="end" textLength="14.9" lengthAdjust="spacingAndGlyphs" >120</text>
<line x1="209.3" y1="392.4" x2="209.3" y2="395" stroke="#1a1a1a" stroke-width="1.1" />
<line x1="230.1" y1="392.4" x2="230.1" y2="395" stroke="#1a1a1a" stroke-width="1.1" />
<line x1="251.5" y1="392.4" x2="251.5" y2="395" stroke="#1a1a1a" stroke-width="1.1" />
<line x1="272.3" y1="392.4" x2="272.3" y2="395" stroke="#1a1a1a" stroke-width="1.1" />
<line x1="293.8" y1="392.4" x2="293.8" y2="395" stroke="#1a1a1a" stroke-width="1.1" />
<text x="200.8" y="405" font-size="8.6" textLength="18.4" lengthAdjust="spacingAndGlyphs">10<tspan font-size="6.36" dy="-3.1">-11</tspan></text>
<text x="245.3" y="405" font-size="8.6" textLength="16.2" lengthAdjust="spacingAndGlyphs">10<tspan font-size="6.36" dy="-3.1">-9</tspan></text>
<text x="283.8" y="405" font-size="8.6" textLength="16.2" lengthAdjust="spacingAndGlyphs">10<tspan font-size="6.36" dy="-3.1">-7</tspan></text>
<text x="213.4" y="417" font-size="9.3" text-anchor="start" textLength="41.2" lengthAdjust="spacing" >Retinoid</text>
<text x="258.5" y="417" font-size="9.3" text-anchor="start" textLength="6.1" lengthAdjust="spacingAndGlyphs" >E</text>
<text x="267.7" y="417" font-size="9.3" text-anchor="start" textLength="14.8" lengthAdjust="spacingAndGlyphs" >(M)</text>
<polyline points="208.8,247.6 230.2,281.3 251.5,320.4 271.7,338 292.9,361.8" fill="none" stroke="#111" stroke-width="1.5" />
<polyline points="208.8,263.3 230.2,325.1 251.5,345.5 271.7,355.9 292.9,370.9" fill="none" stroke="#111" stroke-width="1.5" />
<polyline points="208.8,243.8 230.2,270.4 251.5,306 271.7,336.3 292.9,349.8" fill="none" stroke="#111" stroke-width="1.5" stroke-dasharray="7,3"/>
<polyline points="208.8,283.7 230.2,296.1 251.5,329.7 271.7,340.9 292.9,352.6" fill="none" stroke="#111" stroke-width="1.5" stroke-dasharray="7,3"/>
<line x1="208.8" y1="234.3" x2="208.8" y2="260.9" stroke="#1a1a1a" stroke-width="1.2" />
<line x1="205.6" y1="234.3" x2="212" y2="234.3" stroke="#1a1a1a" stroke-width="1.2" />
<line x1="205.6" y1="260.9" x2="212" y2="260.9" stroke="#1a1a1a" stroke-width="1.2" />
<line x1="230.2" y1="271" x2="230.2" y2="291.5" stroke="#1a1a1a" stroke-width="1.2" />
<line x1="227" y1="271" x2="233.4" y2="271" stroke="#1a1a1a" stroke-width="1.2" />
<line x1="227" y1="291.5" x2="233.4" y2="291.5" stroke="#1a1a1a" stroke-width="1.2" />
<line x1="251.5" y1="312" x2="251.5" y2="329" stroke="#1a1a1a" stroke-width="1.2" />
<line x1="248.3" y1="312" x2="254.7" y2="312" stroke="#1a1a1a" stroke-width="1.2" />
<line x1="248.3" y1="329" x2="254.7" y2="329" stroke="#1a1a1a" stroke-width="1.2" />
<line x1="271.7" y1="331.7" x2="271.7" y2="348" stroke="#1a1a1a" stroke-width="1.2" />
<line x1="268.5" y1="331.7" x2="274.9" y2="331.7" stroke="#1a1a1a" stroke-width="1.2" />
<line x1="268.5" y1="348" x2="274.9" y2="348" stroke="#1a1a1a" stroke-width="1.2" />
<line x1="292.9" y1="355" x2="292.9" y2="368.6" stroke="#1a1a1a" stroke-width="1.2" />
<line x1="289.7" y1="355" x2="296.1" y2="355" stroke="#1a1a1a" stroke-width="1.2" />
<line x1="289.7" y1="368.6" x2="296.1" y2="368.6" stroke="#1a1a1a" stroke-width="1.2" />
<line x1="208.8" y1="252.7" x2="208.8" y2="272.3" stroke="#1a1a1a" stroke-width="1.2" />
<line x1="205.6" y1="252.7" x2="212" y2="252.7" stroke="#1a1a1a" stroke-width="1.2" />
<line x1="205.6" y1="272.3" x2="212" y2="272.3" stroke="#1a1a1a" stroke-width="1.2" />
<line x1="230.2" y1="320.4" x2="230.2" y2="330.6" stroke="#1a1a1a" stroke-width="1.2" />
<line x1="227" y1="320.4" x2="233.4" y2="320.4" stroke="#1a1a1a" stroke-width="1.2" />
<line x1="227" y1="330.6" x2="233.4" y2="330.6" stroke="#1a1a1a" stroke-width="1.2" />
<line x1="251.5" y1="340" x2="251.5" y2="351" stroke="#1a1a1a" stroke-width="1.2" />
<line x1="248.3" y1="340" x2="254.7" y2="340" stroke="#1a1a1a" stroke-width="1.2" />
<line x1="248.3" y1="351" x2="254.7" y2="351" stroke="#1a1a1a" stroke-width="1.2" />
<line x1="271.7" y1="350" x2="271.7" y2="359.2" stroke="#1a1a1a" stroke-width="1.2" />
<line x1="268.5" y1="350" x2="274.9" y2="350" stroke="#1a1a1a" stroke-width="1.2" />
<line x1="268.5" y1="359.2" x2="274.9" y2="359.2" stroke="#1a1a1a" stroke-width="1.2" />
<line x1="292.9" y1="368.6" x2="292.9" y2="372.9" stroke="#1a1a1a" stroke-width="1.2" />
<line x1="289.7" y1="368.6" x2="296.1" y2="368.6" stroke="#1a1a1a" stroke-width="1.2" />
<line x1="289.7" y1="372.9" x2="296.1" y2="372.9" stroke="#1a1a1a" stroke-width="1.2" />
<line x1="208.8" y1="229.1" x2="208.8" y2="258.5" stroke="#1a1a1a" stroke-width="1.2" />
<line x1="205.6" y1="229.1" x2="212" y2="229.1" stroke="#1a1a1a" stroke-width="1.2" />
<line x1="205.6" y1="258.5" x2="212" y2="258.5" stroke="#1a1a1a" stroke-width="1.2" />
<line x1="230.2" y1="259.9" x2="230.2" y2="283.7" stroke="#1a1a1a" stroke-width="1.2" />
<line x1="227" y1="259.9" x2="233.4" y2="259.9" stroke="#1a1a1a" stroke-width="1.2" />
<line x1="227" y1="283.7" x2="233.4" y2="283.7" stroke="#1a1a1a" stroke-width="1.2" />
<line x1="251.5" y1="297.5" x2="251.5" y2="315" stroke="#1a1a1a" stroke-width="1.2" />
<line x1="248.3" y1="297.5" x2="254.7" y2="297.5" stroke="#1a1a1a" stroke-width="1.2" />
<line x1="248.3" y1="315" x2="254.7" y2="315" stroke="#1a1a1a" stroke-width="1.2" />
<line x1="271.7" y1="330.4" x2="271.7" y2="343" stroke="#1a1a1a" stroke-width="1.2" />
<line x1="268.5" y1="330.4" x2="274.9" y2="330.4" stroke="#1a1a1a" stroke-width="1.2" />
<line x1="268.5" y1="343" x2="274.9" y2="343" stroke="#1a1a1a" stroke-width="1.2" />
<line x1="292.9" y1="346.1" x2="292.9" y2="355" stroke="#1a1a1a" stroke-width="1.2" />
<line x1="289.7" y1="346.1" x2="296.1" y2="346.1" stroke="#1a1a1a" stroke-width="1.2" />
<line x1="289.7" y1="355" x2="296.1" y2="355" stroke="#1a1a1a" stroke-width="1.2" />
<line x1="208.8" y1="271.7" x2="208.8" y2="295.7" stroke="#1a1a1a" stroke-width="1.2" />
<line x1="205.6" y1="271.7" x2="212" y2="271.7" stroke="#1a1a1a" stroke-width="1.2" />
<line x1="205.6" y1="295.7" x2="212" y2="295.7" stroke="#1a1a1a" stroke-width="1.2" />
<line x1="230.2" y1="285" x2="230.2" y2="309.7" stroke="#1a1a1a" stroke-width="1.2" />
<line x1="227" y1="285" x2="233.4" y2="285" stroke="#1a1a1a" stroke-width="1.2" />
<line x1="227" y1="309.7" x2="233.4" y2="309.7" stroke="#1a1a1a" stroke-width="1.2" />
<line x1="251.5" y1="323" x2="251.5" y2="337" stroke="#1a1a1a" stroke-width="1.2" />
<line x1="248.3" y1="323" x2="254.7" y2="323" stroke="#1a1a1a" stroke-width="1.2" />
<line x1="248.3" y1="337" x2="254.7" y2="337" stroke="#1a1a1a" stroke-width="1.2" />
<line x1="271.7" y1="334" x2="271.7" y2="348" stroke="#1a1a1a" stroke-width="1.2" />
<line x1="268.5" y1="334" x2="274.9" y2="334" stroke="#1a1a1a" stroke-width="1.2" />
<line x1="268.5" y1="348" x2="274.9" y2="348" stroke="#1a1a1a" stroke-width="1.2" />
<line x1="292.9" y1="346" x2="292.9" y2="357.9" stroke="#1a1a1a" stroke-width="1.2" />
<line x1="289.7" y1="346" x2="296.1" y2="346" stroke="#1a1a1a" stroke-width="1.2" />
<line x1="289.7" y1="357.9" x2="296.1" y2="357.9" stroke="#1a1a1a" stroke-width="1.2" />
<circle cx="208.8" cy="247.6" r="2.45" fill="#111"/>
<circle cx="230.2" cy="281.3" r="2.45" fill="#111"/>
<circle cx="251.5" cy="320.4" r="2.45" fill="#111"/>
<circle cx="271.7" cy="338" r="2.45" fill="#111"/>
<circle cx="292.9" cy="361.8" r="2.45" fill="#111"/>
<circle cx="208.8" cy="263.3" r="1.95" fill="#fff" stroke="#111" stroke-width="1.2"/>
<circle cx="230.2" cy="325.1" r="1.95" fill="#fff" stroke="#111" stroke-width="1.2"/>
<circle cx="251.5" cy="345.5" r="1.95" fill="#fff" stroke="#111" stroke-width="1.2"/>
<circle cx="271.7" cy="355.9" r="1.95" fill="#fff" stroke="#111" stroke-width="1.2"/>
<circle cx="292.9" cy="370.9" r="1.95" fill="#fff" stroke="#111" stroke-width="1.2"/>
<circle cx="208.8" cy="243.8" r="2.45" fill="#111"/>
<circle cx="230.2" cy="270.4" r="2.45" fill="#111"/>
<circle cx="251.5" cy="306" r="2.45" fill="#111"/>
<circle cx="271.7" cy="336.3" r="2.45" fill="#111"/>
<circle cx="292.9" cy="349.8" r="2.45" fill="#111"/>
<circle cx="208.8" cy="283.7" r="1.95" fill="#fff" stroke="#111" stroke-width="1.2"/>
<circle cx="230.2" cy="296.1" r="1.95" fill="#fff" stroke="#111" stroke-width="1.2"/>
<circle cx="251.5" cy="329.7" r="1.95" fill="#fff" stroke="#111" stroke-width="1.2"/>
<circle cx="271.7" cy="340.9" r="1.95" fill="#fff" stroke="#111" stroke-width="1.2"/>
<circle cx="292.9" cy="352.6" r="1.95" fill="#fff" stroke="#111" stroke-width="1.2"/>
<rect x="319.6" y="220.7" width="198.9" height="61.5" fill="none" stroke="#a8a8a8" stroke-width="1.2"/>
<line x1="322.5" y1="229.4" x2="352.3" y2="229.4" stroke="#111" stroke-width="1.3" />
<circle cx="337.4" cy="229.4" r="2.6" fill="#111"/>
<line x1="322.5" y1="244.8" x2="352.3" y2="244.8" stroke="#111" stroke-width="1.3" />
<circle cx="337.4" cy="244.8" r="2.1" fill="#fff" stroke="#111" stroke-width="1.2"/>
<line x1="322.7" y1="260.4" x2="327.8" y2="260.4" stroke="#111" stroke-width="1.3" />
<line x1="331.8" y1="260.4" x2="334.8" y2="260.4" stroke="#111" stroke-width="1.3" />
<line x1="340.2" y1="260.4" x2="345.3" y2="260.4" stroke="#111" stroke-width="1.3" />
<line x1="348.5" y1="260.4" x2="352.4" y2="260.4" stroke="#111" stroke-width="1.3" />
<circle cx="337.4" cy="260.4" r="2.6" fill="#111"/>
<line x1="322.7" y1="276.1" x2="327.8" y2="276.1" stroke="#111" stroke-width="1.3" />
<line x1="331.8" y1="276.1" x2="334.8" y2="276.1" stroke="#111" stroke-width="1.3" />
<line x1="340.2" y1="276.1" x2="345.3" y2="276.1" stroke="#111" stroke-width="1.3" />
<line x1="348.5" y1="276.1" x2="352.4" y2="276.1" stroke="#111" stroke-width="1.3" />
<circle cx="337.4" cy="276.1" r="2.1" fill="#fff" stroke="#111" stroke-width="1.2"/>
<text x="355.6" y="232.7" font-size="8.8" text-anchor="start" textLength="106.4" lengthAdjust="spacingAndGlyphs" >HL-60, experimental&#160; Retinoid</text>
<text x="355.2" y="249.5" font-size="8.8" text-anchor="start" textLength="24.4" lengthAdjust="spacingAndGlyphs" >HL-60,</text>
<text x="382.1" y="249.5" font-size="8.8" text-anchor="start" textLength="8.1" lengthAdjust="spacingAndGlyphs" >10</text>
<text x="390.5" y="246.4" font-size="7.2" text-anchor="start" textLength="6.6" lengthAdjust="spacingAndGlyphs" >-9</text>
<text x="400.2" y="249.5" font-size="8.8" text-anchor="start" textLength="116.6" lengthAdjust="spacingAndGlyphs" >M ATRA+experimental&#160; Retinoid</text>
<text x="355.6" y="262.9" font-size="8.8" text-anchor="start" textLength="99.1" lengthAdjust="spacingAndGlyphs" >NB4, experimental&#160; Retinoid</text>
<text x="354.2" y="278" font-size="8.8" text-anchor="start" textLength="17.3" lengthAdjust="spacingAndGlyphs" >NB4,</text>
<text x="374.6" y="278" font-size="8.8" text-anchor="start" textLength="8.1" lengthAdjust="spacingAndGlyphs" >10</text>
<text x="382.7" y="274.9" font-size="7.2" text-anchor="start" textLength="6.3" lengthAdjust="spacingAndGlyphs" >-9</text>
<text x="391.9" y="278" font-size="8.8" text-anchor="start" textLength="117.4" lengthAdjust="spacingAndGlyphs" >M ATRA+experimental&#160; Retinoid</text>
<line x1="350.6" y1="276.1" x2="353.1" y2="276.1" stroke="#111" stroke-width="1.3" />
</svg>
</body></html>
